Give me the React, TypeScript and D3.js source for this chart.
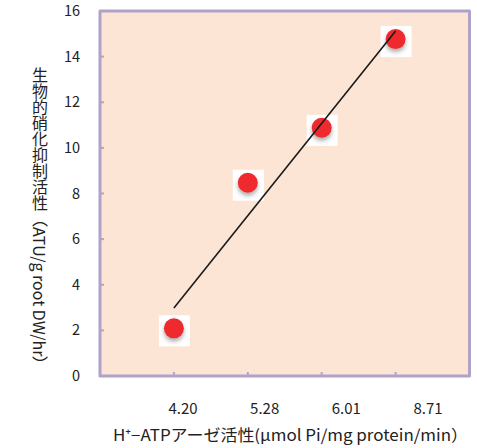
import * as d3 from 'd3';

const categories = ['4.20', '5.28', '6.01', '8.71'];
const activity = [2.09, 8.47, 10.88, 14.77];
const yTickValues = [0, 2, 4, 6, 8, 10, 12, 14, 16];

const W = 477;
const H = 448;
const plot = { left: 100, right: 469.5, top: 11, bottom: 376 };
const font = '"Noto Sans CJK JP", "Noto Sans", sans-serif';

export default function App() {
  const x = d3.scaleLinear().domain([0, categories.length + 1]).range([plot.left, plot.right]);
  const y = d3.scaleLinear().domain([0, 16]).range([plot.bottom, plot.top]);
  const labelX = d3.scalePoint<string>().domain(categories).range([183, 428]);

  // least-squares trend line through the points
  const xs = activity.map((_, i) => i + 1);
  const mx = d3.mean(xs) as number;
  const my = d3.mean(activity) as number;
  const slope =
    d3.sum(xs, (v, i) => (v - mx) * (activity[i] - my)) / d3.sum(xs, (v) => (v - mx) * (v - mx));
  const fit = (v: number) => my + slope * (v - mx);
  const trend = d3
    .line<number>()
    .x((v) => x(v))
    .y((v) => y(fit(v)))([xs[0], xs[xs.length - 1]]);

  return (
    <svg width={W} height={H} style={{ position: 'absolute', left: 0, top: 0 }} fontFamily={font}>
      <defs>
        <filter id="shadow" x="-50%" y="-50%" width="200%" height="200%">
          <feDropShadow dx="0" dy="3" stdDeviation="2" floodColor="#555" floodOpacity="0.5" />
        </filter>
      </defs>
      <rect
        x={plot.left}
        y={plot.top}
        width={plot.right - plot.left}
        height={plot.bottom - plot.top}
        fill="#fde5d6"
        stroke="#b0a2c9"
        strokeWidth={3}
        strokeLinejoin="round"
      />
      {yTickValues.map((t) => (
        <g key={t}>
          {t > 0 && t < 16 && (
            <line x1={plot.left} x2={plot.left + 4} y1={y(t)} y2={y(t)} stroke="#b0a2c9" strokeWidth={2} />
          )}
          <text x={80} y={y(t)} dy="0.35em" textAnchor="end" fontSize={14.5} fill="#222">
            {t}
          </text>
        </g>
      ))}
      {categories.map((c, i) => (
        <g key={c}>
          <line
            x1={x(i + 1)}
            x2={x(i + 1)}
            y1={plot.bottom}
            y2={plot.bottom - 4}
            stroke="#b0a2c9"
            strokeWidth={2}
          />
          <text x={labelX(c)} y={409} dy="0.35em" textAnchor="middle" fontSize={15} fill="#222">
            {c}
          </text>
        </g>
      ))}
      {activity.map((v, i) => (
        <rect key={'bg' + i} x={x(i + 1) - 15} y={y(v) - 13} width={31} height={31} fill="#fff" />
      ))}
      {activity.map((v, i) => (
        <circle key={'pt' + i} cx={x(i + 1)} cy={y(v)} r={10} fill="#ee2b2f" filter="url(#shadow)" />
      ))}
      <path d={trend ?? ''} stroke="#1a1a1a" strokeWidth={1.6} fill="none" />
      <text x={40} y={67} fontSize={16} fill="#222" style={{ writingMode: 'vertical-rl' }}>
        生物的硝化抑制活性（ATU/g root DW/hr）
      </text>
      <text
        x={113}
        y={435}
        dy="0.35em"
        fontSize={16}
        fill="#222"
        textLength={355}
        lengthAdjust="spacingAndGlyphs"
      >
        H⁺−ATPアーゼ活性(μmol Pi/mg protein/min）
      </text>
    </svg>
  );
}
